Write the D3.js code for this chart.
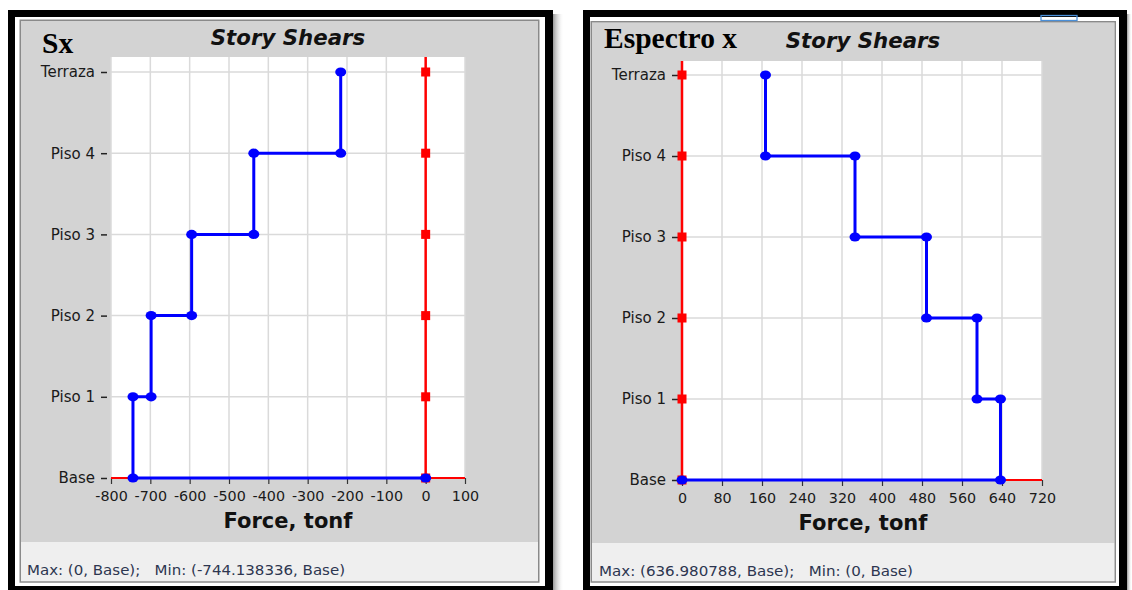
<!DOCTYPE html>
<html>
<head>
<meta charset="utf-8">
<script src="https://cdn.jsdelivr.net/npm/d3@7"></script>
<style>
html,body{margin:0;padding:0;background:#fff;}
svg{display:block;}
</style>
</head>
<body>
<svg id="chart" width="1132" height="590"></svg>
<script>
// ---------- DATA ----------
const levels = ["Base", "Piso 1", "Piso 2", "Piso 3", "Piso 4", "Terraza"];
const stories = ["Terraza", "Piso 4", "Piso 3", "Piso 2", "Piso 1"];
const storyBelow = ["Piso 4", "Piso 3", "Piso 2", "Piso 1", "Base"];
const sxShear = [-216, -437, -595, -698, -744.138336];
const spectroShear = [167, 346, 489, 590, 636.980788];
const sxTicks = [-800, -700, -600, -500, -400, -300, -200, -100, 0, 100];
const spectroTicks = [0, 80, 160, 240, 320, 400, 480, 560, 640, 720];
const sxDomain = [-800, 100];
const spectroDomain = [0, 720];
const refValues = [0, 0, 0, 0, 0, 0]; // red series (zero) at each level
const titleText = "Story Shears";
const axisTitle = "Force, tonf";
const sxLabel = "Sx";
const spectroLabel = "Espectro x";
const sxStatus = "Max: (0, Base);   Min: (-744.138336, Base)";
const spectroStatus = "Max: (636.980788, Base);   Min: (0, Base)";

const svg = d3.select("#chart");
const defs = svg.append("defs");
const g1 = defs.append("linearGradient").attr("id","shadow").attr("x1",0).attr("x2",1).attr("y1",0).attr("y2",0);
g1.append("stop").attr("offset","0%").attr("stop-color","#9a9a9a");
g1.append("stop").attr("offset","100%").attr("stop-color","#ffffff").attr("stop-opacity",0);

function panel(cfg) {
  const f = cfg.frame;
  svg.append("rect").attr("x", f.x1).attr("y", 14).attr("width", cfg.shadowW).attr("height", 576)
    .attr("fill", "url(#shadow)");
  svg.append("rect").attr("x", f.x0).attr("y", 10).attr("width", f.x1 - f.x0).attr("height", 580).attr("fill", "#000");
  svg.append("rect").attr("x", f.x0 + 7).attr("y", 17).attr("width", f.x1 - f.x0 - 15).attr("height", 569).attr("fill", "#fff");
  svg.append("rect").attr("x", cfg.inner.x0).attr("y", cfg.inner.y0).attr("width", cfg.inner.x1 - cfg.inner.x0)
    .attr("height", cfg.statusY - cfg.inner.y0).attr("fill", "#d3d3d3");
  svg.append("rect").attr("x", cfg.inner.x0).attr("y", cfg.statusY).attr("width", cfg.inner.x1 - cfg.inner.x0)
    .attr("height", 581.5 - cfg.statusY).attr("fill", "#efefef");
  svg.append("rect").attr("x", cfg.inner.x0 - 0.75).attr("y", cfg.inner.y0 - 0.75).attr("width", cfg.inner.x1 - cfg.inner.x0 + 1.5)
    .attr("height", 582 - cfg.inner.y0 + 0.75).attr("fill", "none").attr("stroke", "#8a8a8a").attr("stroke-width", 1.5);

  const p = cfg.plot;
  const x = d3.scaleLinear().domain(cfg.domain).range([p.left, p.right]);
  const y = d3.scalePoint().domain(levels).range([p.bottom, p.top + p.pad]);

  svg.append("rect").attr("x", p.left).attr("y", p.top).attr("width", p.right - p.left).attr("height", p.bottom - p.top).attr("fill", "#fff");
  svg.append("g").selectAll("line").data(cfg.ticks).join("line")
    .attr("x1", d => x(d)).attr("x2", d => x(d)).attr("y1", p.top).attr("y2", p.bottom)
    .attr("stroke", "#dadada").attr("stroke-width", 1.5);
  svg.append("g").selectAll("line").data(levels).join("line")
    .attr("x1", p.left).attr("x2", p.right).attr("y1", d => y(d)).attr("y2", d => y(d))
    .attr("stroke", "#dadada").attr("stroke-width", 1.5);

  const xa = svg.append("g").attr("transform", `translate(0,${p.bottom})`)
    .call(d3.axisBottom(x).tickValues(cfg.ticks).tickSize(6).tickPadding(7).tickFormat(d3.format("d")));
  xa.select(".domain").remove();
  xa.selectAll("line").attr("stroke", "#333").attr("stroke-width", 1.2);
  xa.selectAll("text").attr("font-family", "DejaVu Sans").attr("font-size", 14.3).attr("fill", "#1a1a1a")
    .text(d => d < 0 ? "-" + Math.abs(d) : d);

  const ya = svg.append("g").attr("transform", `translate(${p.left - 4},0)`)
    .call(d3.axisLeft(y).tickSize(6).tickPadding(6));
  ya.select(".domain").remove();
  ya.selectAll("line").attr("stroke", "#222").attr("stroke-width", 1.5);
  ya.selectAll("text").attr("font-family", "DejaVu Sans").attr("font-size", 15).attr("fill", "#1a1a1a");

  svg.append("line").attr("x1", x(0)).attr("x2", x(0)).attr("y1", p.top).attr("y2", p.bottom)
    .attr("stroke", "#ff0000").attr("stroke-width", 2.5);
  svg.append("line").attr("x1", p.left).attr("x2", p.right).attr("y1", y("Base")).attr("y2", y("Base"))
    .attr("stroke", "#ff0000").attr("stroke-width", 2);

  const pts = [];
  cfg.values.forEach((v, i) => { pts.push([v, stories[i]]); pts.push([v, storyBelow[i]]); });
  pts.push([0, "Base"]);
  const line = d3.line().x(d => x(d[0])).y(d => y(d[1]));
  svg.append("path").attr("d", line(pts)).attr("fill", "none").attr("stroke", "#0000ff").attr("stroke-width", 3);

  svg.append("g").selectAll("rect").data(levels).join("rect")
    .attr("x", (d, i) => x(refValues[i]) - 4.5).attr("y", d => y(d) - 4.5).attr("width", 9).attr("height", 9).attr("fill", "#ff0000");

  svg.append("g").selectAll("ellipse").data(pts).join("ellipse")
    .attr("cx", d => x(d[0])).attr("cy", d => y(d[1])).attr("rx", 5.5).attr("ry", 4.6).attr("fill", "#0000ff");

  svg.append("text").attr("x", cfg.titleX).attr("y", cfg.titleY).attr("text-anchor", "middle")
    .attr("font-family", "DejaVu Sans").attr("font-weight", "bold").attr("font-style", "italic").attr("font-size", 21.3)
    .attr("fill", "#111").text(titleText);
  svg.append("text").attr("x", cfg.titleX).attr("y", cfg.axisTitleY).attr("text-anchor", "middle")
    .attr("font-family", "DejaVu Sans").attr("font-weight", "bold").attr("font-size", 21)
    .attr("fill", "#111").text(axisTitle);
  svg.append("text").attr("x", cfg.labelX).attr("y", cfg.labelY)
    .attr("font-family", "Liberation Serif").attr("font-weight", "bold").attr("font-size", 29.5)
    .attr("fill", "#000").text(cfg.label);
  svg.append("text").attr("x", cfg.statusX).attr("y", cfg.statusTextY)
    .attr("font-family", "DejaVu Sans").attr("font-size", 13.5).attr("fill", "#2d3650")
    .attr("textLength", cfg.statusLen).attr("lengthAdjust", "spacingAndGlyphs")
    .style("white-space", "pre").text(cfg.status);
}

panel({
  frame: {x0: 8, x1: 553}, shadowW: 11,
  inner: {x0: 21, x1: 538, y0: 21},
  statusY: 542,
  plot: {left: 111, right: 465, top: 57, bottom: 478, pad: 15},
  domain: sxDomain, ticks: sxTicks, values: sxShear,
  titleX: 288, titleY: 45, axisTitleY: 528,
  label: sxLabel, labelX: 42, labelY: 53,
  status: sxStatus, statusX: 27, statusTextY: 575, statusLen: 318
});

panel({
  frame: {x0: 583, x1: 1127}, shadowW: 5,
  inner: {x0: 592, x1: 1114.5, y0: 22.5},
  statusY: 543,
  plot: {left: 682, right: 1042, top: 61, bottom: 480, pad: 14},
  domain: spectroDomain, ticks: spectroTicks, values: spectroShear,
  titleX: 863, titleY: 48, axisTitleY: 530,
  label: spectroLabel, labelX: 604, labelY: 48,
  status: spectroStatus, statusX: 599, statusTextY: 576, statusLen: 314
});

svg.append("rect").attr("x", 1041).attr("y", 15.5).attr("width", 36).attr("height", 5)
  .attr("fill", "none").attr("stroke", "#4a8fd8").attr("stroke-width", 1.3);
</script>
</body>
</html>
